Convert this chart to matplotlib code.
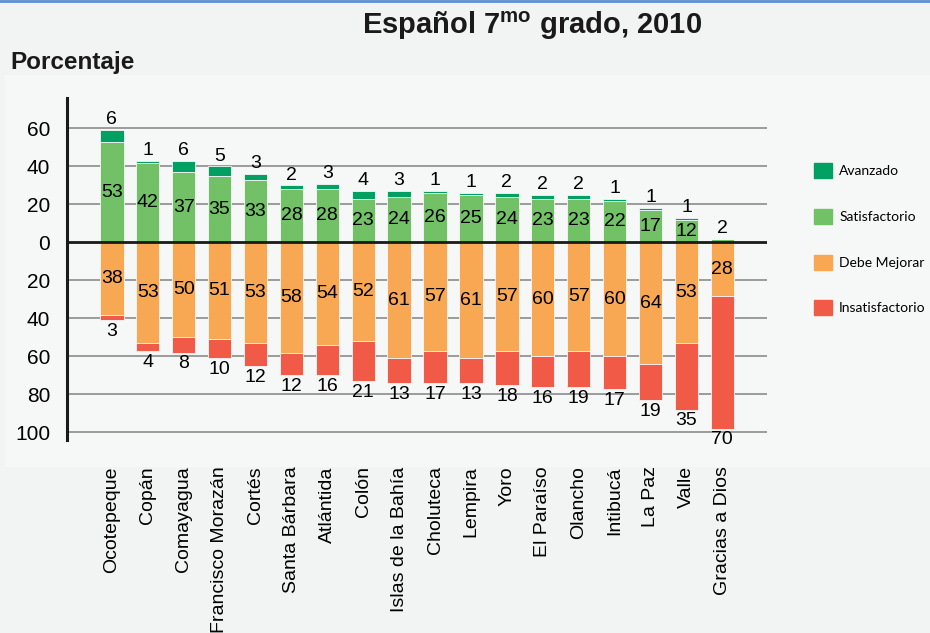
import numpy as np
import matplotlib.pyplot as plt
from matplotlib.patches import Patch, Rectangle

plt.rcParams['font.family'] = ['Liberation Sans', 'DejaVu Sans']
plt.rcParams['mathtext.fontset'] = 'custom'
plt.rcParams['mathtext.rm'] = 'Liberation Sans'
plt.rcParams['mathtext.bf'] = 'Liberation Sans:bold'

# data
departamentos = ['Ocotepeque', 'Copán', 'Comayagua', 'Francisco Morazán', 'Cortés',
                 'Santa Bárbara', 'Atlántida', 'Colón', 'Islas de la Bahía', 'Choluteca',
                 'Lempira', 'Yoro', 'El Paraíso', 'Olancho', 'Intibucá', 'La Paz',
                 'Valle', 'Gracias a Dios']
avanzado = [6, 1, 6, 5, 3, 2, 3, 4, 3, 1, 1, 2, 2, 2, 1, 1, 1, 0]
satisfactorio = [53, 42, 37, 35, 33, 28, 28, 23, 24, 26, 25, 24, 23, 23, 22, 17, 12, 2]
debe_mejorar = [38, 53, 50, 51, 53, 58, 54, 52, 61, 57, 61, 57, 60, 57, 60, 64, 53, 28]
insatisfactorio = [3, 4, 8, 10, 12, 12, 16, 21, 13, 17, 13, 18, 16, 19, 17, 19, 35, 70]
yticks = [60, 40, 20, 0, -20, -40, -60, -80, -100]

c_av = '#00a063'
c_sat = '#72c167'
c_dm = '#f8a852'
c_ins = '#f05a46'
bg = '#f2f3f3'
bg_plot = '#f6f7f7'

fig = plt.figure(figsize=(9.3, 6.33), dpi=100, facecolor=bg)
# slightly lighter panel behind the plot
fig.add_artist(Rectangle((0.005, 0.262), 0.995, 0.62, transform=fig.transFigure,
                         facecolor=bg_plot, edgecolor='none', zorder=0))
ax = fig.add_axes([0.072, 0.305, 0.753, 0.54])
ax.set_facecolor('none')

x = np.arange(len(departamentos))
av = np.array(avanzado)
sat = np.array(satisfactorio)
dm = np.array(debe_mejorar)
ins = np.array(insatisfactorio)
w = 0.65

ax.bar(x, sat, w, color=c_sat, edgecolor=bg_plot, linewidth=0.6, zorder=3)
ax.bar(x, av, w, bottom=sat, color=c_av, edgecolor=bg_plot, linewidth=0.6, zorder=3)
ax.bar(x, -dm, w, color=c_dm, edgecolor=bg_plot, linewidth=0.6, zorder=3)
ax.bar(x, -ins, w, bottom=-dm, color=c_ins, edgecolor=bg_plot, linewidth=0.6, zorder=3)

fs = 14
for i in x:
    if av[i] > 0:
        ax.text(i, sat[i] + av[i] + 1, str(av[i]), ha='center', va='bottom', fontsize=fs, zorder=4)
        ax.text(i, sat[i] / 2, str(sat[i]), ha='center', va='center', fontsize=fs, zorder=4)
    else:
        # bar too thin, label goes above
        ax.text(i, sat[i] + 1, str(sat[i]), ha='center', va='bottom', fontsize=fs, zorder=4)
    ax.text(i, -dm[i] / 2, str(dm[i]), ha='center', va='center', fontsize=fs, zorder=4)
    ax.text(i, -dm[i] - ins[i] - 1.5, str(ins[i]), ha='center', va='top', fontsize=fs, zorder=4)

ax.set_xlim(-1.25, 18.25)
ax.set_ylim(-104, 76)
ax.set_yticks(yticks)
ax.set_yticklabels([str(abs(v)) for v in yticks], fontsize=15)
ax.set_xticks(x)
ax.set_xticklabels(departamentos, rotation=90, fontsize=14)
ax.tick_params(axis='both', length=0)
ax.tick_params(axis='x', pad=19)
ax.tick_params(axis='y', pad=12)

for v in yticks:
    if v != 0:
        ax.axhline(v, color='#8c8c8c', linewidth=1.2, zorder=1)
ax.axhline(0, color='#1a1a1a', linewidth=2, zorder=5)

for s in ['top', 'right', 'bottom']:
    ax.spines[s].set_visible(False)
ax.spines['left'].set_linewidth(2.2)
ax.spines['left'].set_color('#1a1a1a')

fig.text(0.572, 0.96, r'Español 7$^{\mathbf{mo}}$ grado, 2010', ha='center', va='center',
         fontsize=21, fontweight='bold', color='#1a1a1a')
fig.text(0.011, 0.902, 'Porcentaje', ha='left', va='center', fontsize=17.5,
         fontweight='bold', color='#1a1a1a')

# top blue line
fig.add_artist(plt.Line2D([0, 1], [0.998, 0.998], color='#5b8fd0', linewidth=2))

handles = [Patch(color=c_av), Patch(color=c_sat), Patch(color=c_dm), Patch(color=c_ins)]
fig.legend(handles, ['Avanzado', 'Satisfactorio', 'Debe Mejorar', 'Insatisfactorio'],
           loc='upper left', bbox_to_anchor=(0.862, 0.762), frameon=False,
           prop={'family': 'Lato', 'size': 10}, handlelength=1.3, handleheight=1.3,
           labelspacing=2.2, handletextpad=0.5)

fig.savefig('out.png', dpi=100, facecolor=fig.get_facecolor())
